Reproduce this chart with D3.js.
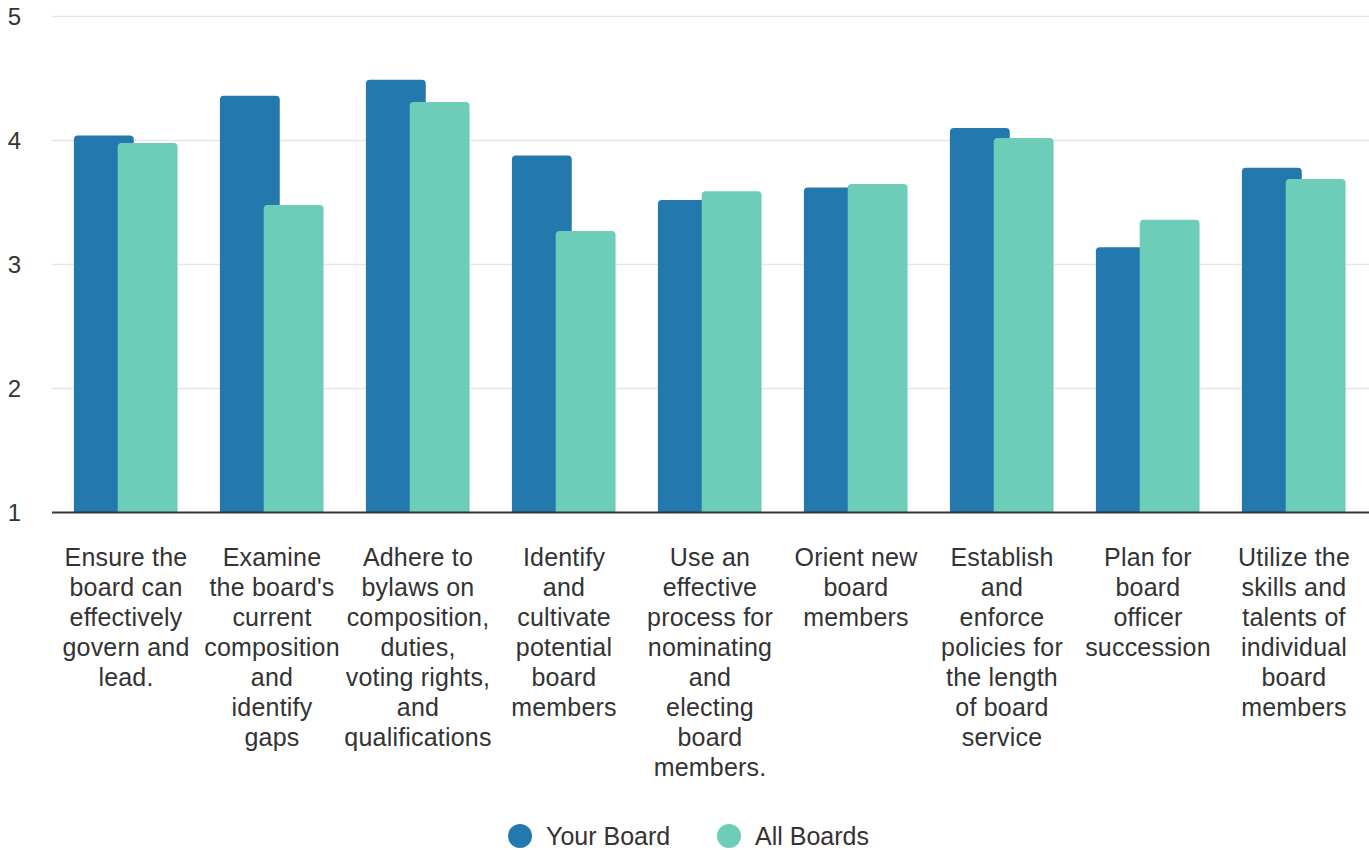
<!DOCTYPE html>
<html>
<head>
<meta charset="utf-8">
<script src="https://cdn.jsdelivr.net/npm/d3@7"></script>
<style>
  body { margin: 0; background: #fff; }
  text { font-family: "Liberation Sans", Arial, sans-serif; fill: #333; }
</style>
</head>
<body>
<svg id="chart"></svg>
<script>
// chart data (line breaks as in the original axis labels)
const categories = [
  "Ensure the\nboard can\neffectively\ngovern and\nlead.",
  "Examine\nthe board's\ncurrent\ncomposition\nand\nidentify\ngaps",
  "Adhere to\nbylaws on\ncomposition,\nduties,\nvoting rights,\nand\nqualifications",
  "Identify\nand\ncultivate\npotential\nboard\nmembers",
  "Use an\neffective\nprocess for\nnominating\nand\nelecting\nboard\nmembers.",
  "Orient new\nboard\nmembers",
  "Establish\nand\nenforce\npolicies for\nthe length\nof board\nservice",
  "Plan for\nboard\nofficer\nsuccession",
  "Utilize the\nskills and\ntalents of\nindividual\nboard\nmembers"
];
const seriesNames = ["Your Board", "All Boards"];
const yourBoard = [4.04, 4.36, 4.49, 3.88, 3.52, 3.62, 4.10, 3.14, 3.78];
const allBoards = [3.98, 3.48, 4.31, 3.27, 3.59, 3.65, 4.02, 3.36, 3.69];
const yTicks = [1, 2, 3, 4, 5];

const colors = {"Your Board": "#2378ae", "All Boards": "#6dcdb8"};

const W = 1369, H = 850;
const svg = d3.select('#chart').attr('width', W).attr('height', H);

const x = d3.scaleBand().domain(categories).range([52, 1366]);
const y = d3.scaleLinear().domain([1, 5]).range([512.5, 16.5]);

// gridlines
svg.append('g').selectAll('line')
  .data(yTicks.filter(t => t > 1))
  .join('line')
  .attr('x1', 52).attr('x2', W)
  .attr('y1', d => y(d)).attr('y2', d => y(d))
  .attr('stroke', '#e6e6e6').attr('stroke-width', 1.5);

// y labels
svg.append('g').selectAll('text')
  .data(yTicks)
  .join('text')
  .attr('x', 21).attr('y', d => y(d))
  .attr('dy', '0.36em')
  .attr('text-anchor', 'end')
  .style('font-size', '24px')
  .text(d => d);

// bars
const rows = [];
categories.forEach((c, i) => {
  rows.push({cat: c, s: "Your Board", v: yourBoard[i]});
  rows.push({cat: c, s: "All Boards", v: allBoards[i]});
});

const bw = x.bandwidth();
const offset = {"Your Board": bw * 0.15, "All Boards": bw * 0.45};
const barW = bw * 0.41;

function topRounded(x0, y0, w, h, r) {
  return `M${x0},${y0 + h}V${y0 + r}Q${x0},${y0} ${x0 + r},${y0}H${x0 + w - r}Q${x0 + w},${y0} ${x0 + w},${y0 + r}V${y0 + h}Z`;
}

svg.append('g').selectAll('path')
  .data(rows)
  .join('path')
  .attr('d', d => {
    const x0 = x(d.cat) + offset[d.s];
    const y0 = y(d.v);
    return topRounded(x0, y0, barW, y(1) - y0, 4);
  })
  .attr('fill', d => colors[d.s]);

// baseline
svg.append('line')
  .attr('x1', 52).attr('x2', W)
  .attr('y1', y(1)).attr('y2', y(1))
  .attr('stroke', '#333').attr('stroke-width', 2);

// category labels
svg.append('g').selectAll('text')
  .data(categories)
  .join('text')
  .attr('text-anchor', 'middle')
  .attr('y', 566)
  .style('font-size', '25px')
  .style('letter-spacing', '0.2px')
  .each(function(c) {
    const cx = x(c) + bw / 2 + 1;
    d3.select(this).selectAll('tspan')
      .data(c.split('\n'))
      .join('tspan')
      .attr('x', cx)
      .attr('dy', (l, i) => i ? 30 : 0)
      .text(l => l);
  });

// legend
const legend = svg.append('g');
const legendX = [520, 729];
seriesNames.forEach((s, i) => {
  legend.append('circle')
    .attr('cx', legendX[i]).attr('cy', 836).attr('r', 12)
    .attr('fill', colors[s]);
  legend.append('text')
    .attr('x', legendX[i] + 26).attr('y', 836)
    .attr('dy', '0.36em')
    .style('font-size', '25px')
    .text(s);
});
</script>
</body>
</html>
